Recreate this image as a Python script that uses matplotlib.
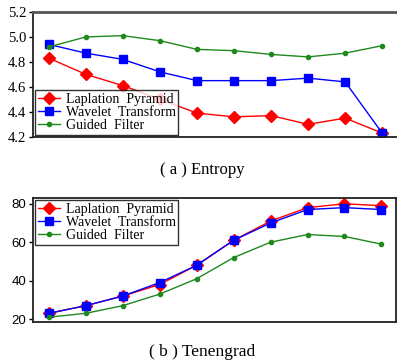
import matplotlib.pyplot as plt

# ---- data ----
steps = [1, 2, 3, 4, 5, 6, 7, 8, 9, 10]

entropy_lp = [4.83, 4.70, 4.61, 4.50, 4.39, 4.36, 4.37, 4.30, 4.35, 4.23]
entropy_wt = [4.94, 4.87, 4.82, 4.72, 4.65, 4.65, 4.65, 4.67, 4.64, 4.23]
entropy_gf = [4.92, 5.00, 5.01, 4.97, 4.90, 4.89, 4.86, 4.84, 4.87, 4.93]

teng_lp = [23, 27, 32, 38, 48, 61, 71, 78, 80, 79]
teng_wt = [23, 27, 32, 39, 48, 61, 70, 77, 78, 77]
teng_gf = [21, 23, 27, 33, 41, 52, 60, 64, 63, 59]

labels = ["Laplation  Pyramid", "Wavelet  Transform", "Guided  Filter"]
entropy_ticks = [4.2, 4.4, 4.6, 4.8, 5.0, 5.2]
teng_ticks = [20, 40, 60, 80]

SERIF = "Liberation Serif"
SANS = "Liberation Sans"

fig = plt.figure(figsize=(3.97, 3.62), dpi=100)
ax1 = fig.add_axes([0.083, 0.622, 0.917, 0.345])
ax2 = fig.add_axes([0.083, 0.110, 0.915, 0.343])


def draw(ax, lp, wt, gf, loc):
    ax.plot(steps, lp, color="red", marker="D", markersize=6.5, linewidth=1.0,
            label=labels[0])
    ax.plot(steps, wt, color="blue", marker="s", markersize=6, linewidth=1.0,
            label=labels[1])
    ax.plot(steps, gf, color="#1e8a1e", marker="o", markersize=3, linewidth=1.0,
            label=labels[2])
    ax.set_xlim(0.57, 10.4)
    ax.set_xticks([])
    for s in ax.spines.values():
        s.set_linewidth(1.3)
        s.set_color("#222222")
    ax.tick_params(axis="y", labelsize=9.5, length=3, width=1, pad=2)
    leg = ax.legend(loc=loc, prop={"family": SERIF, "size": 10},
                    frameon=True, fancybox=False, edgecolor="black",
                    handlelength=1.6, handletextpad=0.4, labelspacing=0.0,
                    borderpad=0.2, borderaxespad=0.15)
    leg.get_frame().set_linewidth(1.0)


draw(ax1, entropy_lp, entropy_wt, entropy_gf, "lower left")
ax1.set_ylim(4.2, 5.2)
ax1.set_yticks(entropy_ticks)
ax1.set_yticklabels([f"{t:.1f}" for t in entropy_ticks], family=SERIF,
                    fontsize=10.5)
ax1.spines["top"].set_color("#555555")
ax1.spines["top"].set_linewidth(2)
ax1.spines["right"].set_visible(False)

draw(ax2, teng_lp, teng_wt, teng_gf, "upper left")
ax2.set_ylim(18.4, 83)
ax2.set_yticks(teng_ticks)
ax2.set_yticklabels([str(t) for t in teng_ticks], family=SANS, fontsize=9.5)

fig.text(0.51, 0.53, "( a ) Entropy", ha="center", va="center",
         family=SERIF, fontsize=12)
fig.text(0.51, 0.028, "( b ) Tenengrad", ha="center", va="center",
         family=SERIF, fontsize=12.5)

plt.savefig("out.png", dpi=100)
plt.close()
